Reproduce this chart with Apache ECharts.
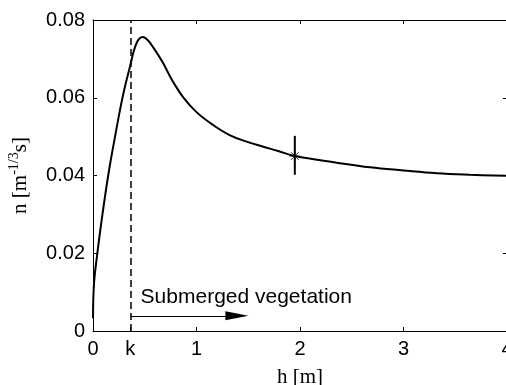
<!DOCTYPE html>
<html><head><meta charset="utf-8">
<script src="https://cdn.jsdelivr.net/npm/echarts@6/dist/echarts.min.js"></script>
<style>html,body{margin:0;padding:0;background:#fff}#c{width:506px;height:385px}</style>
</head><body><div id="c"></div>
<script>
const kValue = 0.36;
const hValues = [0, 0.01, 0.042, 0.084, 0.148, 0.213, 0.287, 0.357, 0.42, 0.48, 0.53, 0.583, 0.63, 0.68, 0.73, 0.776, 0.872, 1.0, 1.16, 1.32, 1.485, 1.645, 1.79, 1.95, 2.355, 2.676, 3.0, 3.32, 3.64, 4.0];
const nValues = [0.0033, 0.0123, 0.020, 0.0286, 0.0402, 0.050, 0.0603, 0.068, 0.074, 0.0756, 0.0748, 0.0729, 0.0710, 0.0688, 0.0662, 0.0640, 0.0601, 0.0563, 0.053, 0.0504, 0.0487, 0.0474, 0.0463, 0.045, 0.0433, 0.0421, 0.0413, 0.0406, 0.0402, 0.0399];
const markerPoint = [1.95, 0.045];
const markerBar = [0.0402, 0.0502];
const xTickValues = [0, kValue, 1, 2, 3, 4];
const xTickLabels = ['0', 'k', '1', '2', '3', '4'];
const yTickLabels = ['0', '0.02', '0.04', '0.06', '0.08'];
const arrowY = 0.0039;
const arrowEnd = 1.39;
const noteText = 'Submerged vegetation';
const notePos = [0.46, 0.0087];

const curve = hValues.map((h, i) => [h, nValues[i]]);
const sans = '"Liberation Sans", Arial, sans-serif';
const serif = '"Liberation Serif", "Times New Roman", serif';

const chart = echarts.init(document.getElementById('c'), null, {renderer: 'canvas'});
chart.setOption({
  animation: false,
  grid: {left: 93, top: 20, width: 414, height: 311, containLabel: false, outerBoundsMode: 'none'},
  xAxis: [{
    type: 'value', position: 'bottom', min: 0, max: 4, interval: 1,
    name: 'h [m]', nameLocation: 'middle', nameGap: 36,
    nameTextStyle: {fontFamily: serif, fontSize: 21, color: '#000'},
    axisLine: {show: true, onZero: false, lineStyle: {color: '#000', width: 1}},
    axisTick: {show: true, inside: true, length: 4, customValues: xTickValues, lineStyle: {color: '#000'}},
    axisLabel: {show: true, margin: 8, fontFamily: sans, fontSize: 20, color: '#000',
      customValues: xTickValues,
      formatter: v => { const i = xTickValues.findIndex(t => Math.abs(t - v) < 1e-9); return i >= 0 ? xTickLabels[i] : ''; }},
    splitLine: {show: false}
  }, {
    type: 'value', position: 'top', min: 0, max: 4, interval: 1,
    axisLine: {show: true, onZero: false, lineStyle: {color: '#000', width: 1}},
    axisTick: {show: true, inside: true, length: 4, lineStyle: {color: '#000'}},
    axisLabel: {show: false}, splitLine: {show: false}
  }],
  yAxis: [{
    type: 'value', position: 'left', min: 0, max: 0.08, interval: 0.02,
    name: '{a|n [m}{s|-1/3}{a|s]}', nameLocation: 'middle', nameGap: 62, nameRotate: 90,
    nameTextStyle: {rich: {
      a: {fontFamily: serif, fontSize: 21, color: '#000', lineHeight: 24, verticalAlign: 'bottom'},
      s: {fontFamily: serif, fontSize: 14, color: '#000', lineHeight: 24, verticalAlign: 'top'}
    }},
    axisLine: {show: true, onZero: false, lineStyle: {color: '#000', width: 1}},
    axisTick: {show: true, inside: true, length: 4, lineStyle: {color: '#000'}},
    axisLabel: {show: true, margin: 8, fontFamily: sans, fontSize: 20, color: '#000',
      formatter: v => yTickLabels[Math.round(v / 0.02)]},
    splitLine: {show: false}
  }, {
    type: 'value', position: 'right', min: 0, max: 0.08, interval: 0.02,
    axisLine: {show: true, onZero: false, lineStyle: {color: '#000', width: 1}},
    axisTick: {show: true, inside: true, length: 4, lineStyle: {color: '#000'}},
    axisLabel: {show: false}, splitLine: {show: false}
  }],
  series: [{
    type: 'line', data: curve, showSymbol: false, symbol: 'none',
    smooth: 0.4,
    lineStyle: {color: '#000', width: 2},
    markLine: {
      silent: true, animation: false,
      data: [
        [{coord: [kValue, 0], symbol: 'none', lineStyle: {type: [7, 4], width: 1.5, color: '#000'}},
         {coord: [kValue, 0.08], symbol: 'none'}],
        [{coord: [kValue, arrowY], symbol: 'none', lineStyle: {type: 'solid', width: 1, color: '#000'}},
         {coord: [arrowEnd, arrowY], symbol: 'triangle', symbolSize: [9, 23]}]
      ],
      label: {show: false}
    },
    markPoint: {
      silent: true, animation: false,
      data: [{coord: notePos, symbol: 'circle', symbolSize: 0,
        label: {show: true, position: 'inside', formatter: noteText, align: 'left', verticalAlign: 'middle',
          fontFamily: sans, fontSize: 21, color: '#000'}}]
    }
  }, {
    type: 'line', data: [[markerPoint[0], markerBar[0]], [markerPoint[0], markerBar[1]]],
    showSymbol: false, symbol: 'none', lineStyle: {color: '#000', width: 2}
  }, {
    type: 'scatter', data: [markerPoint],
    symbol: 'path://M0,5L10,5M5,0L5,10M1.5,1.5L8.5,8.5M8.5,1.5L1.5,8.5', symbolSize: 11,
    itemStyle: {color: 'none', borderColor: '#000', borderWidth: 1}
  }]
});
</script></body></html>
